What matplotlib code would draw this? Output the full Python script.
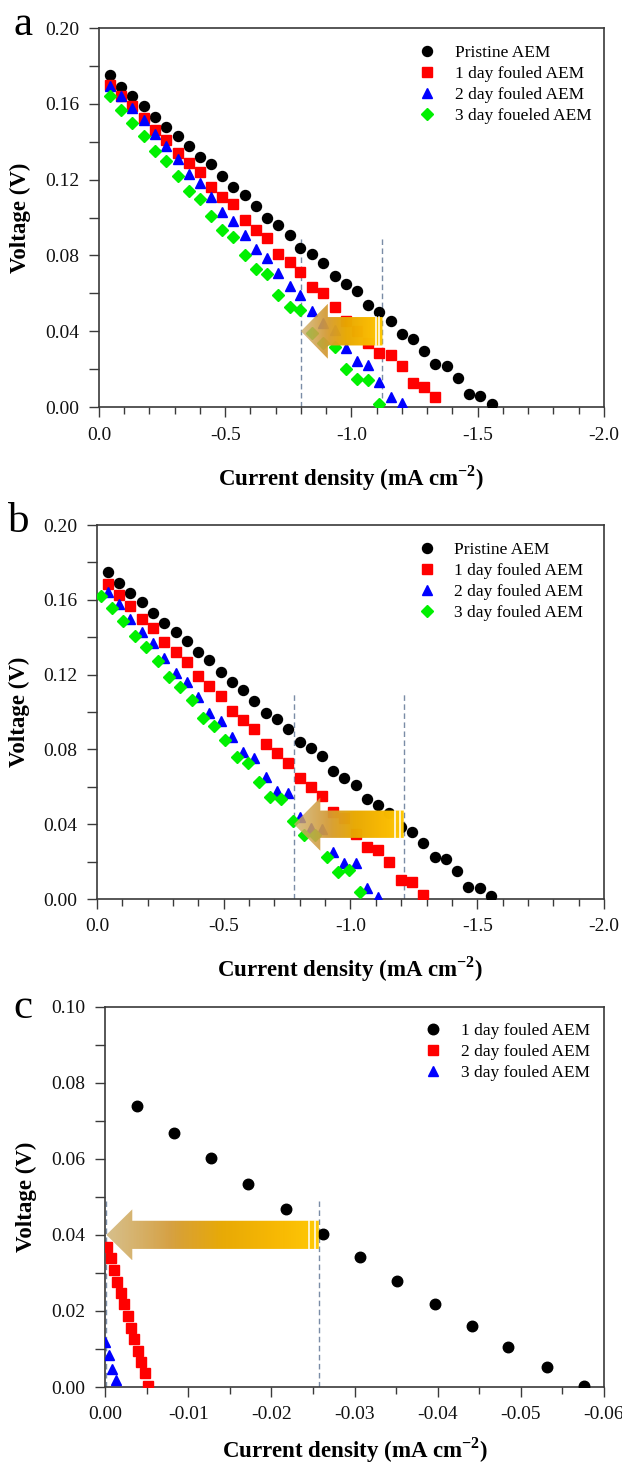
import numpy as np
import matplotlib
matplotlib.use('Agg')
import matplotlib.pyplot as plt
from matplotlib.patches import Polygon

plt.rcParams['font.family'] = ['Liberation Serif', 'DejaVu Serif']
plt.rcParams['axes.unicode_minus'] = False
plt.rcParams['mathtext.fontset'] = 'custom'
plt.rcParams['mathtext.rm'] = 'Liberation Serif'
plt.rcParams['mathtext.bf'] = 'Liberation Serif:bold'

# ---------------- data (current density in mA cm-2, voltage in V) ----------------
# panel a
a_current = [-0.044, -0.088, -0.133, -0.177, -0.223, -0.267, -0.312, -0.356, -0.400, -0.444,
             -0.489, -0.533, -0.577, -0.621, -0.667, -0.711, -0.755, -0.798, -0.844, -0.889,
             -0.933, -0.977, -1.021, -1.065, -1.111, -1.155, -1.200, -1.244, -1.288, -1.332,
             -1.377, -1.421, -1.467, -1.509, -1.556]
a_pristine = [0.175, 0.169, 0.164, 0.159, 0.153, 0.148, 0.143, 0.138, 0.132, 0.128,
              0.122, 0.116, 0.112, 0.106, 0.100, 0.096, 0.091, 0.084, 0.081, 0.076,
              0.069, 0.065, 0.061, 0.054, 0.050, 0.0456, 0.0385, 0.036, 0.0296, 0.0225,
              0.0215, 0.0151, 0.0067, 0.006, 0.0014]
a_day1 = [0.170, 0.164, 0.159, 0.1525, 0.146, 0.141, 0.134, 0.129, 0.124, 0.116,
          0.111, 0.107, 0.0985, 0.0934, 0.089, 0.081, 0.0765, 0.0712, 0.0633, 0.060,
          0.053, 0.0456, 0.040, 0.034, 0.0284, 0.0277, 0.0219, 0.0126, 0.0105, 0.0053]
a_day2 = [0.1696, 0.164, 0.158, 0.1516, 0.144, 0.138, 0.131, 0.123, 0.118, 0.111,
          0.1027, 0.098, 0.091, 0.0834, 0.0785, 0.0707, 0.0637, 0.0593, 0.0505, 0.0443,
          0.0408, 0.0311, 0.0241, 0.022, 0.013, 0.0053, 0.0021]
a_day3 = [0.164, 0.157, 0.150, 0.143, 0.135, 0.130, 0.122, 0.114, 0.110, 0.101,
          0.0936, 0.0897, 0.0804, 0.0728, 0.0704, 0.0593, 0.0528, 0.0514, 0.039, 0.0338,
          0.0317, 0.0202, 0.015, 0.0144, 0.0014]
a_labels = ['Pristine AEM', '1 day fouled AEM', '2 day fouled AEM', '3 day foueled AEM']

# panel b
b_current = [-0.044, -0.088, -0.132, -0.176, -0.222, -0.266, -0.310, -0.355, -0.399, -0.443,
             -0.488, -0.532, -0.576, -0.620, -0.665, -0.710, -0.754, -0.799, -0.843, -0.887,
             -0.932, -0.976, -1.020, -1.064, -1.108, -1.152, -1.200, -1.243, -1.288, -1.332,
             -1.377, -1.421, -1.465, -1.509, -1.555]
b_pristine = [0.1747, 0.1688, 0.1635, 0.159, 0.153, 0.1478, 0.143, 0.1378, 0.132, 0.1278,
              0.1216, 0.116, 0.112, 0.1059, 0.0996, 0.0963, 0.0911, 0.0838, 0.0809, 0.0763,
              0.0684, 0.0649, 0.061, 0.0537, 0.0503, 0.0458, 0.0383, 0.0357, 0.0298, 0.0226,
              0.0214, 0.015, 0.0066, 0.0061, 0.0014]
b_day1 = [0.1683, 0.1626, 0.1567, 0.150, 0.145, 0.1376, 0.132, 0.1266, 0.119, 0.1139,
          0.1086, 0.1007, 0.0955, 0.0911, 0.0831, 0.0779, 0.0729, 0.0649, 0.0597, 0.0549,
          0.0467, 0.0431, 0.035, 0.028, 0.0262, 0.020, 0.0103, 0.0093, 0.002]
b_day2 = [0.1643, 0.1576, 0.150, 0.1426, 0.1367, 0.129, 0.121, 0.116, 0.1078, 0.0993,
          0.0954, 0.0866, 0.0788, 0.0756, 0.065, 0.0578, 0.0565, 0.044, 0.0378, 0.0372,
          0.0253, 0.0194, 0.0194, 0.0061, 0.0011]
b_day3_current = [-0.014, -0.060, -0.104, -0.150, -0.195, -0.240, -0.285, -0.328, -0.373, -0.417,
                  -0.461, -0.505, -0.551, -0.594, -0.639, -0.683, -0.727, -0.772, -0.816, -0.860,
                  -0.906, -0.951, -0.995, -1.039]
b_day3 = [0.162, 0.1558, 0.1487, 0.1406, 0.1346, 0.1275, 0.1189, 0.1135, 0.1064, 0.0966,
          0.0927, 0.085, 0.0761, 0.0725, 0.0627, 0.0547, 0.0533, 0.0419, 0.0342, 0.0342,
          0.0226, 0.0146, 0.0155, 0.0039]
b_labels = ['Pristine AEM', '1 day fouled AEM', '2 day fouled AEM', '3 day fouled AEM']

# panel c
c_day1_current = [-0.0038, -0.0083, -0.0127, -0.0172, -0.0217, -0.0262, -0.0306, -0.0351,
                  -0.0397, -0.0441, -0.0485, -0.0531, -0.0576]
c_day1 = [0.0738, 0.0668, 0.0601, 0.0533, 0.0468, 0.0403, 0.0341, 0.0279, 0.0219, 0.0161,
          0.0105, 0.0052, 0.0002]
c_day2_current = [-0.00017, -0.0007, -0.00105, -0.00145, -0.00193, -0.0023, -0.00272, -0.00309,
                  -0.00348, -0.00395, -0.00434, -0.00474, -0.00513]
c_day2 = [0.0368, 0.0338, 0.0307, 0.0277, 0.0248, 0.0218, 0.0186, 0.0156, 0.0125, 0.0096,
          0.0066, 0.0036, 0.0004]
c_day3_current = [0.0, -0.00045, -0.00088, -0.00127]
c_day3 = [0.0118, 0.0083, 0.0047, 0.0019]
c_labels = ['1 day fouled AEM', '2 day fouled AEM', '3 day fouled AEM']

# dashed guide lines (x positions, top voltage)
a_guides, a_guide_top = [-0.80, -1.123], 0.090
b_guides, b_guide_top = [-0.777, -1.211], 0.110
c_guides, c_guide_top = [-0.00015, -0.0257], 0.0488

# ---------------- styles ----------------
styles = [dict(marker='o', color='#000000', ms=7.2),
          dict(marker='s', color='#FF0000', ms=6.6),
          dict(marker='^', color='#0000FF', ms=7.4),
          dict(marker='D', color='#00F000', ms=6.2)]
spine_c = '#3a3a3a'
guide_c = '#7a8ca6'


def gold_arrow(ax, tip, tail, yc, head_frac, head_h, shaft_h, stripes):
    """gradient block arrow pointing from tail to tip"""
    base = tip + (tail - tip) * head_frac
    pts = [(tip, yc), (base, yc + head_h), (base, yc + shaft_h), (tail, yc + shaft_h),
           (tail, yc - shaft_h), (base, yc - shaft_h), (base, yc - head_h)]
    poly = Polygon(pts, closed=True, facecolor='none', edgecolor='none',
                   transform=ax.transData)
    ax.add_patch(poly)
    t = np.linspace(0, 1, 300)
    stops = [0.0, 0.3, 0.55, 0.8, 1.0]
    r = np.interp(t, stops, [0.80, 0.83, 0.91, 0.97, 1.00])
    g = np.interp(t, stops, [0.68, 0.61, 0.66, 0.72, 0.79])
    b = np.interp(t, stops, [0.42, 0.22, 0.00, 0.00, 0.02])
    a = np.interp(t, [0.0, 0.35, 1.0], [0.78, 0.97, 1.0])
    img = np.dstack([r, g, b, a])
    im = ax.imshow(img, extent=[tip, tail, yc - head_h, yc + head_h], aspect='auto',
                   interpolation='bilinear', zorder=5)
    im.set_clip_path(poly)
    for s in stripes:
        xs = tip + (tail - tip) * s
        ax.plot([xs, xs], [yc - shaft_h, yc + shaft_h], color='white', lw=1.1, zorder=6)


def style_axes(ax, xmax, xmaj, xmin_step, ymax, ymaj, ymin_step, xfmt, yfmt):
    ax.set_xlim(0, xmax)
    ax.set_ylim(0, ymax)
    nx = int(round(abs(xmax) / xmaj))
    xt = [-i * xmaj for i in range(nx + 1)]
    ax.set_xticks(xt)
    ax.set_xticklabels([xfmt.format(v) if i else xfmt.format(0.0) for i, v in enumerate(xt)])
    ax.set_xticks([-i * xmin_step for i in range(int(round(abs(xmax) / xmin_step)) + 1)], minor=True)
    yt = [i * ymaj for i in range(int(round(ymax / ymaj)) + 1)]
    ax.set_yticks(yt)
    ax.set_yticklabels([yfmt.format(v) for v in yt])
    ax.set_yticks([i * ymin_step for i in range(int(round(ymax / ymin_step)) + 1)], minor=True)
    ax.tick_params(which='both', direction='out', top=False, right=False,
                   color=spine_c, width=1.0, labelsize=14, labelcolor='#111111')
    ax.tick_params(axis='x', which='major', length=7, pad=7)
    ax.tick_params(axis='x', which='minor', length=5)
    ax.tick_params(axis='y', which='both', length=7, pad=7)
    for sp in ax.spines.values():
        sp.set_color(spine_c)
        sp.set_linewidth(1.2)
    ax.set_xlabel(r'Current density (mA cm$^{\mathbf{-2}}$)', fontsize=16.5, fontweight='bold')
    ax.set_ylabel('Voltage (V)', fontsize=16.5, fontweight='bold')
    ax.xaxis.label.set_va('center')
    ax.yaxis.label.set_va('center')


fig = plt.figure(figsize=(6.22, 14.69), dpi=100)

# ---------------- panel a ----------------
ax1 = fig.add_axes([0.159, 0.7229, 0.812, 0.258])
for vals, st, lab in zip([a_pristine, a_day1, a_day2, a_day3], styles, a_labels):
    ax1.plot(a_current[:len(vals)], vals, linestyle='none', marker=st['marker'],
             color=st['color'], ms=st['ms'], mec=st['color'], label=lab, zorder=3)
for gx in a_guides:
    ax1.plot([gx, gx], [0, a_guide_top], color=guide_c, lw=1.0, ls=(0, (4, 2.5)), zorder=2)
gold_arrow(ax1, -0.80, -1.123, 0.040, 0.33, 0.0145, 0.0075, [0.915, 0.955])
style_axes(ax1, -2.0, 0.5, 0.1, 0.2, 0.04, 0.02, '{:.1f}', '{:.2f}')

# ---------------- panel b ----------------
ax2 = fig.add_axes([0.156, 0.388, 0.815, 0.2546])
b_sets = [(b_current, b_pristine), (b_current, b_day1), (b_current, b_day2),
          (b_day3_current, b_day3)]
for (xs, vals), st, lab in zip(b_sets, styles, b_labels):
    ax2.plot(xs[:len(vals)], vals, linestyle='none', marker=st['marker'],
             color=st['color'], ms=st['ms'], mec=st['color'], label=lab, zorder=3)
for gx in b_guides:
    ax2.plot([gx, gx], [0, b_guide_top], color=guide_c, lw=1.0, ls=(0, (4, 2.5)), zorder=2)
gold_arrow(ax2, -0.777, -1.21, 0.040, 0.24, 0.0142, 0.0073, [0.925, 0.962])
style_axes(ax2, -2.0, 0.5, 0.1, 0.2, 0.04, 0.02, '{:.1f}', '{:.2f}')

# ---------------- panel c ----------------
ax3 = fig.add_axes([0.169, 0.0558, 0.802, 0.259])
c_sets = [(c_day1_current, c_day1), (c_day2_current, c_day2), (c_day3_current, c_day3)]
for (xs, vals), st, lab in zip(c_sets, styles[:3], c_labels):
    ax3.plot(xs, vals, linestyle='none', marker=st['marker'], color=st['color'],
             ms=st['ms'] * 1.05, mec=st['color'], label=lab, zorder=3)
for gx in c_guides:
    ax3.plot([gx, gx], [0, c_guide_top], color=guide_c, lw=1.0, ls=(0, (4, 2.5)), zorder=2)
gold_arrow(ax3, -0.00015, -0.0257, 0.040, 0.122, 0.0067, 0.0037, [0.955, 0.98])
style_axes(ax3, -0.06, 0.01, 0.005, 0.1, 0.02, 0.01, '{:.2f}', '{:.2f}')

# legends
for ax, anchor in [(ax1, (0.633, 0.955)), (ax2, (0.633, 0.955)), (ax3, (0.64, 0.958))]:
    ax.legend(loc='upper left', bbox_to_anchor=anchor, frameon=False, fontsize=12.5,
              handlelength=1.0, handletextpad=1.1, labelspacing=0.28, borderpad=0,
              borderaxespad=0, numpoints=1)

for ax, yfrac_x, xfrac_y in [(ax1, -0.155, -0.187), (ax2, -0.153, -0.187), (ax3, -0.158, -0.166)]:
    ax.yaxis.set_label_coords(yfrac_x, 0.5)
    ax.xaxis.set_label_coords(0.5, xfrac_y)

# panel letters
fig.text(23 / 622, 1 - 25 / 1469, 'a', fontsize=31, ha='center', va='center')
fig.text(19 / 622, 1 - 522 / 1469, 'b', fontsize=31, ha='center', va='center')
fig.text(23 / 622, 1 - 1008 / 1469, 'c', fontsize=31, ha='center', va='center')

fig.savefig('out.png', dpi=100)
